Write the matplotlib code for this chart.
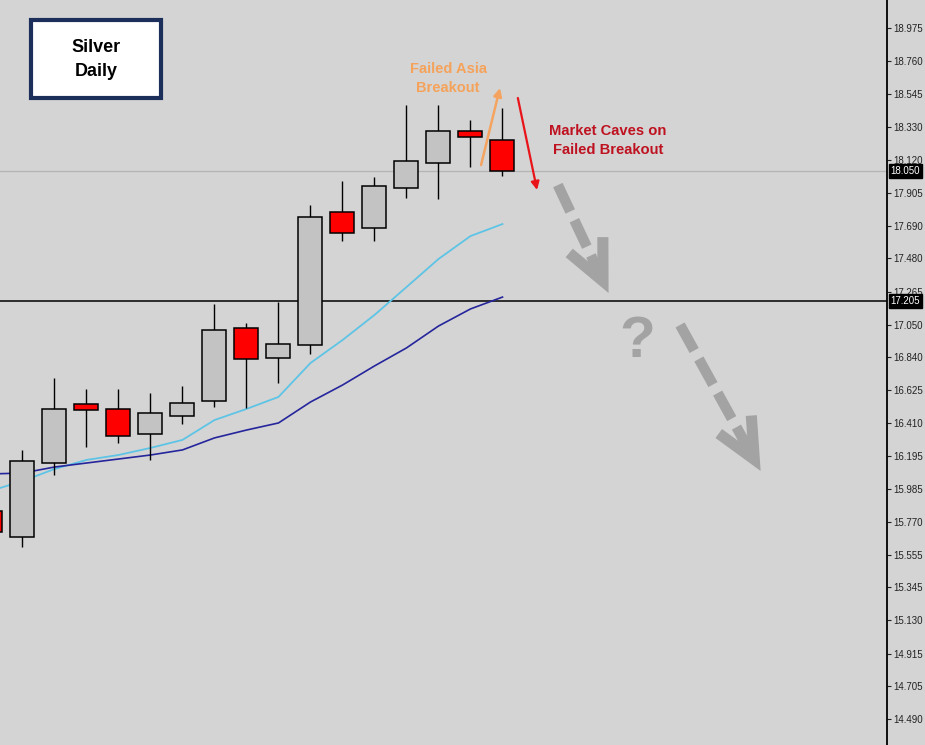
import matplotlib
matplotlib.use('Agg')
import matplotlib.pyplot as plt
import numpy as np
from matplotlib.patches import Rectangle

plt.rcParams['font.family'] = ['Liberation Sans', 'DejaVu Sans']
plt.rcParams['lines.scale_dashes'] = False

# ---- data (daily Silver candles) ----
opens  = [15.841, 15.672, 16.152, 16.535, 16.503, 16.340, 16.457, 16.555, 17.028, 16.834,
          16.918, 17.781, 17.677, 17.937, 18.099, 18.307, 18.248]
highs  = [15.880, 16.237, 16.704, 16.632, 16.632, 16.607, 16.652, 17.184, 17.061, 17.197,
          17.826, 17.982, 18.008, 18.475, 18.475, 18.378, 18.456]
lows   = [15.660, 15.607, 16.074, 16.256, 16.282, 16.172, 16.405, 16.516, 16.509, 16.671,
          16.860, 17.593, 17.593, 17.872, 17.865, 18.073, 18.015]
closes = [15.705, 16.165, 16.503, 16.496, 16.327, 16.477, 16.542, 17.015, 16.827, 16.924,
          17.749, 17.645, 17.950, 18.112, 18.307, 18.268, 18.050]
ma_fast = [15.971, 16.035, 16.113, 16.172, 16.204, 16.250, 16.302, 16.431, 16.503, 16.581,
           16.801, 16.950, 17.113, 17.294, 17.476, 17.625, 17.703]
ma_slow = [16.081, 16.087, 16.126, 16.152, 16.178, 16.204, 16.237, 16.315, 16.366, 16.412,
           16.548, 16.658, 16.782, 16.899, 17.041, 17.152, 17.229]
price_ticks = [18.975, 18.760, 18.545, 18.330, 18.120, 17.905, 17.690, 17.480, 17.265, 17.050,
               16.840, 16.625, 16.410, 16.195, 15.985, 15.770, 15.555, 15.345, 15.130, 14.915,
               14.705, 14.490]
support_level = 17.205
current_price = 18.050

BG = '#d4d4d4'
fig = plt.figure(figsize=(9.25, 7.45), dpi=100, facecolor=BG)
ax = fig.add_axes([0, 0, 887 / 925, 1], facecolor=BG)
ax.set_xlim(0.297, 28.016)
ax.set_ylim(14.322, 19.157)

x = np.arange(len(opens))
o = np.array(opens); c = np.array(closes)
bear = c < o
colors = ['#ff0000' if b else '#c3c3c3' for b in bear]

# horizontal levels
ax.axhline(current_price, color='#b4b4b4', lw=0.9, zorder=1)
ax.axhline(support_level, color='black', lw=1.1, zorder=1)

# moving averages
ax.plot(x, ma_fast, color='#5ec4e6', lw=1.3, zorder=2)
ax.plot(x, ma_slow, color='#25259c', lw=1.2, zorder=2)

# candles
ax.vlines(x, lows, highs, color='black', lw=1.0, zorder=3)
ax.bar(x, np.abs(c - o), bottom=np.minimum(o, c), width=0.75, color=colors,
       edgecolor='black', linewidth=1.1, zorder=4)

# right axis
for s in ['left', 'top', 'bottom']:
    ax.spines[s].set_visible(False)
ax.spines['right'].set_color('black')
ax.spines['right'].set_linewidth(1.3)
ax.set_xticks([])
ax.yaxis.tick_right()
ax.set_yticks(price_ticks)
ax.set_yticklabels([f'{t:.3f}' for t in price_ticks])
ax.tick_params(axis='y', length=3, width=0.8, pad=1.5, labelsize=7, colors='#222222')

# price tags
for val in [current_price, support_level]:
    ax.annotate(f'{val:.3f}', xy=(1, val), xycoords=('axes fraction', 'data'),
                xytext=(2.5, 0), textcoords='offset points', ha='left', va='center',
                fontsize=7, color='white', annotation_clip=False, zorder=10,
                bbox=dict(boxstyle='square,pad=0.2', fc='black', ec='black'))

# title box
ax.add_patch(Rectangle((31 / 887, 1 - 98 / 745), 130 / 887, 78 / 745, transform=ax.transAxes,
                       facecolor='white', edgecolor='#1b2f5a', lw=3, zorder=6))
ax.text(96 / 887, 1 - 59.5 / 745, 'Silver\nDaily', transform=ax.transAxes, ha='center',
        va='center', fontsize=13, fontweight='bold', color='black', linespacing=1.5, zorder=7)

# annotations
ax.text(14.30, 18.65, 'Failed Asia\nBreakout', color='#f5a25a', fontweight='bold',
        fontsize=10.5, ha='center', va='center', linespacing=1.45)
ax.annotate('', xy=(15.92, 18.586), xytext=(15.33, 18.086),
            arrowprops=dict(arrowstyle='-|>', color='#f4a460', lw=1.8, mutation_scale=12,
                            shrinkA=0, shrinkB=0))
ax.text(19.3, 18.248, 'Market Caves on\nFailed Breakout', color='#bf1220', fontweight='bold',
        fontsize=10.6, ha='center', va='center', linespacing=1.45)
ax.annotate('', xy=(17.08, 17.924), xytext=(16.48, 18.521),
            arrowprops=dict(arrowstyle='-|>', color='#e8141a', lw=1.6, mutation_scale=12,
                            shrinkA=0, shrinkB=0))

inv = ax.transData.inverted()


def gray_arrow(x0, y0, x1, y1):
    p0 = ax.transData.transform((x0, y0))
    p1 = ax.transData.transform((x1, y1))
    d = (p1 - p0) / np.linalg.norm(p1 - p0)
    end = p1 - d * 14
    s = inv.transform(np.array([p0, end]))
    ax.plot(s[:, 0], s[:, 1], color='#a3a3a3', lw=7.5, dashes=(21, 7),
            dash_capstyle='butt', zorder=5)
    tip = p1 - d * 12
    back = -d
    pts = []
    for ang in (25, -25):
        a = np.radians(ang)
        r = np.array([back[0] * np.cos(a) - back[1] * np.sin(a),
                      back[0] * np.sin(a) + back[1] * np.cos(a)])
        pts.append(tip + r * 44)
    h = inv.transform(np.array([pts[0], tip, pts[1]]))
    ax.plot(h[:, 0], h[:, 1], color='#a3a3a3', lw=8, solid_joinstyle='miter',
            solid_capstyle='butt', zorder=5)


gray_arrow(17.73, 17.956, 19.30, 17.262)
gray_arrow(21.55, 17.048, 24.05, 16.107)
ax.text(20.2, 16.94, '?', fontsize=42, fontweight='bold', color='#a3a3a3',
        ha='center', va='center', zorder=5)

fig.savefig('out.png', dpi=100, facecolor=BG)
